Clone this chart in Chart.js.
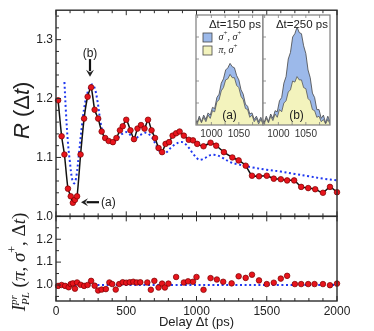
<!DOCTYPE html>
<html>
<head>
<meta charset="utf-8">
<script src="https://cdn.jsdelivr.net/npm/chart.js@4.4.1/dist/chart.umd.min.js"></script>
<style>
  body { margin: 0; background: #fff; }
  #wrap { position: relative; width: 374px; height: 331px; }
  canvas { position: absolute; }
</style>
</head>
<body>
<div id="wrap">
  <canvas id="main" width="374" height="331" style="left:0;top:0"></canvas>
  <canvas id="insetA" width="74" height="130" style="left:190px;top:10px"></canvas>
  <canvas id="insetB" width="74" height="130" style="left:257px;top:10px"></canvas>
</div>
<script>
'use strict';

// top panel: measured R(dt) and model (dotted)
let topTime = [15, 40, 60, 85, 105, 120, 135, 150, 175, 200, 225, 250, 275, 300, 325, 350, 375, 405, 430, 455,
  475, 500, 530, 555, 580, 605, 630, 655, 680, 705, 730, 755, 780, 805, 830, 855, 880, 910, 945, 975,
  1005, 1050, 1100, 1140, 1195, 1255, 1300, 1350, 1395, 1445, 1500, 1550, 1600, 1645, 1695, 1745, 1795, 1845, 1900, 1950, 2000];
let topR = [1.197, 1.136, 1.105, 1.047, 1.034, 1.023, 1.028, 1.034, 1.105, 1.166, 1.203, 1.219, 1.181, 1.166, 1.144, 1.133, 1.128, 1.126, 1.133, 1.146,
  1.153, 1.164, 1.146, 1.131, 1.149, 1.155, 1.149, 1.164, 1.146, 1.133, 1.116, 1.109, 1.123, 1.126, 1.137, 1.141, 1.144, 1.137, 1.130, 1.129,
  1.123, 1.119, 1.125, 1.120, 1.109, 1.100, 1.095, 1.086, 1.069, 1.068, 1.069, 1.064, 1.063, 1.061, 1.061, 1.050, 1.048, 1.046, 1.040, 1.050, 1.041];
let modelTime = [60, 70, 85, 100, 115, 130, 145, 165, 185, 205, 230, 255, 275, 295, 315, 335, 360, 400, 430, 460,
  500, 530, 560, 600, 640, 680, 710, 740, 780, 820, 860, 900, 940, 980, 1020, 1060, 1100, 1140, 1180, 1240,
  1300, 1400, 1500, 1600, 1700, 1800, 1900, 2000];
let modelR = [1.228, 1.18, 1.125, 1.09, 1.063, 1.056, 1.068, 1.11, 1.155, 1.19, 1.214, 1.224, 1.218, 1.196, 1.163, 1.14, 1.129, 1.126, 1.13, 1.138,
  1.143, 1.138, 1.132, 1.138, 1.142, 1.135, 1.122, 1.11, 1.108, 1.117, 1.124, 1.126, 1.118, 1.105, 1.096, 1.099, 1.104, 1.104, 1.100, 1.092,
  1.088, 1.083, 1.079, 1.076, 1.072, 1.068, 1.064, 1.061];

// bottom panel: I_PL(pi, sigma+, dt)
let botTime = [15, 40, 65, 90, 105, 120, 135, 150, 175, 200, 225, 250, 275, 300, 325, 355, 380, 400, 425, 450,
  475, 500, 525, 550, 575, 600, 650, 675, 700, 730, 755, 775, 800, 855, 910, 940, 975, 1000, 1050, 1100,
  1145, 1190, 1250, 1300, 1350, 1395, 1445, 1500, 1550, 1600, 1645, 1700, 1745, 1795, 1840, 1900, 1950, 2000];
let botI = [0.996, 1.0, 0.996, 0.99, 1.004, 1.007, 0.984, 1.011, 1.001, 0.996, 1.0, 1.018, 0.997, 0.976, 0.98, 0.982, 1.011, 1.004, 0.98, 1.004,
  1.012, 1.01, 1.012, 1.014, 1.011, 1.012, 1.011, 0.979, 1.018, 0.989, 1.006, 0.989, 1.006, 1.035, 1.011, 1.016, 1.014, 1.035, 0.979, 1.030,
  1.024, 1.014, 1.007, 1.038, 1.031, 1.045, 1.02, 1.004, 1.01, 1.028, 1.04, 1.004, 1.004, 1.004, 1.004, 1.004, 0.999, 1.006];
let botModelTime = [0, 2000];
let botModel = [1.0, 1.0];

let xTicks = [0, 500, 1000, 1500, 2000];
let topTicks = [1.0, 1.1, 1.2, 1.3];
let botTicks = [1.0, 1.1, 1.2];

// inset spectra
let specE = [970, 974, 978, 982, 986, 990, 994, 998, 1002, 1006, 1010, 1014, 1018, 1022, 1026, 1030, 1034,
  1038, 1042, 1046, 1050, 1054, 1058, 1062, 1066, 1070, 1074, 1078, 1082, 1086, 1090, 1094, 1098];
let blue150 = [0.06, 0.02, 0.08, 0.03, 0.09, 0.05, 0.11, 0.09, 0.16, 0.15, 0.25, 0.28, 0.38, 0.42, 0.50, 0.52, 0.56,
  0.53, 0.52, 0.45, 0.41, 0.32, 0.28, 0.19, 0.17, 0.10, 0.11, 0.05, 0.08, 0.03, 0.07, 0.02, 0.06];
let yellow150 = [0.05, 0.01, 0.06, 0.02, 0.07, 0.03, 0.09, 0.06, 0.13, 0.12, 0.21, 0.23, 0.31, 0.34, 0.41, 0.42, 0.46,
  0.43, 0.43, 0.36, 0.34, 0.26, 0.23, 0.15, 0.14, 0.07, 0.09, 0.03, 0.06, 0.01, 0.05, 0.01, 0.04];
let blue250 = [0.07, 0.02, 0.08, 0.03, 0.10, 0.06, 0.13, 0.12, 0.22, 0.25, 0.38, 0.44, 0.60, 0.66, 0.80, 0.83, 0.89,
  0.84, 0.83, 0.72, 0.65, 0.50, 0.43, 0.29, 0.25, 0.14, 0.14, 0.06, 0.09, 0.02, 0.08, 0.03, 0.05];
let yellow250 = [0.05, 0.01, 0.06, 0.02, 0.08, 0.04, 0.10, 0.07, 0.14, 0.12, 0.20, 0.22, 0.30, 0.32, 0.40, 0.39, 0.44,
  0.41, 0.41, 0.34, 0.33, 0.24, 0.22, 0.14, 0.13, 0.07, 0.08, 0.03, 0.05, 0.01, 0.05, 0.01, 0.03];
let specTicks = [1000, 1050];

const SANS = 'Liberation Sans, Arial, sans-serif';
const SERIF = 'Liberation Serif, Times New Roman, serif';
const BLUE_FILL = '#9cb9ea';
const YELLOW_FILL = '#f3f3bd';

function pairs(xs, ys) {
  return xs.map((x, i) => ({x: x, y: ys[i]}));
}

// draws a row of text pieces centred on (x, y), rotated by angle
function drawRuns(ctx, runs, x, y, angle) {
  ctx.save();
  ctx.translate(x, y);
  ctx.rotate(angle);
  let w = 0;
  runs.forEach(r => {
    ctx.font = r.font;
    r.w = ctx.measureText(r.t).width;
    if (r.lo) {
      ctx.font = r.lo.font;
      r.w = Math.max(r.w, ctx.measureText(r.lo.t).width);
    }
    w += r.w;
  });
  let cx = -w / 2;
  ctx.textAlign = 'left';
  ctx.textBaseline = 'middle';
  runs.forEach(r => {
    ctx.font = r.font;
    ctx.fillText(r.t, cx, r.dy || 0);
    if (r.lo) {
      ctx.font = r.lo.font;
      ctx.fillText(r.lo.t, cx, r.lo.dy);
    }
    cx += r.w;
  });
  ctx.restore();
}

function arrow(ctx, x1, y1, x2, y2) {
  const a = Math.atan2(y2 - y1, x2 - x1);
  const head = 7, half = 4;
  ctx.beginPath();
  ctx.moveTo(x1, y1);
  ctx.lineTo(x2 - Math.cos(a) * head * 0.8, y2 - Math.sin(a) * head * 0.8);
  ctx.lineWidth = 2.2;
  ctx.stroke();
  ctx.beginPath();
  ctx.moveTo(x2, y2);
  ctx.lineTo(x2 - Math.cos(a) * head - Math.sin(a) * half, y2 - Math.sin(a) * head + Math.cos(a) * half);
  ctx.lineTo(x2 - Math.cos(a) * head * 0.6, y2 - Math.sin(a) * head * 0.6);
  ctx.lineTo(x2 - Math.cos(a) * head + Math.sin(a) * half, y2 - Math.sin(a) * head - Math.cos(a) * half);
  ctx.closePath();
  ctx.fill();
}

const mainDeco = {
  id: 'mainDeco',
  afterDraw(chart) {
    const ctx = chart.ctx;
    const x = chart.scales.x, yT = chart.scales.yT, yB = chart.scales.yB;
    const L = chart.chartArea.left, R = chart.chartArea.right;
    ctx.save();
    ctx.strokeStyle = '#2b2b2b';
    ctx.lineWidth = 1.4;
    [yT, yB].forEach(s => ctx.strokeRect(L, s.top, R - L, s.bottom - s.top));

    ctx.lineWidth = 1;
    ctx.beginPath();
    for (let v = 0; v <= 2000; v += 100) {
      const px = x.getPixelForValue(v);
      const len = v % 500 === 0 ? 5 : 3;
      [yT, yB].forEach(s => {
        ctx.moveTo(px, s.top); ctx.lineTo(px, s.top + len);
        ctx.moveTo(px, s.bottom); ctx.lineTo(px, s.bottom - len);
      });
    }
    for (let k = 100; k <= 134; k += 2) {
      const py = yT.getPixelForValue(k / 100);
      ctx.moveTo(L, py); ctx.lineTo(L + (k % 10 === 0 ? 5 : 3), py);
    }
    for (let k = 95; k <= 125; k += 5) {
      const py = yB.getPixelForValue(k / 100);
      ctx.moveTo(L, py); ctx.lineTo(L + (k % 10 === 0 ? 5 : 3), py);
    }
    ctx.stroke();

    ctx.fillStyle = '#222';
    ctx.strokeStyle = '#111';
    drawRuns(ctx, [
      {t: 'R', font: 'italic 22px ' + SANS},
      {t: ' (', font: '22px ' + SANS},
      {t: 'Δ', font: '22px ' + SANS},
      {t: 't', font: 'italic 22px ' + SANS},
      {t: ')', font: '22px ' + SANS}
    ], 23, yT.getPixelForValue(1.18), -Math.PI / 2);

    drawRuns(ctx, [
      {t: 'I', font: 'italic 19px ' + SERIF},
      {t: 'pr', font: 'italic 11px ' + SERIF, dy: -6, lo: {t: 'PL', font: 'italic 11px ' + SERIF, dy: 6}},
      {t: ' (', font: '19px ' + SERIF},
      {t: 'π', font: 'italic 19px ' + SERIF},
      {t: ', ', font: '19px ' + SERIF},
      {t: 'σ', font: 'italic 19px ' + SERIF},
      {t: '+', font: '12px ' + SERIF, dy: -7},
      {t: ', ', font: '19px ' + SERIF},
      {t: 'Δ', font: '19px ' + SERIF},
      {t: 't', font: 'italic 19px ' + SERIF},
      {t: ')', font: '19px ' + SERIF}
    ], 20, 262, -Math.PI / 2);

    ctx.font = '13px ' + SANS;
    ctx.textAlign = 'center';
    ctx.textBaseline = 'middle';
    ctx.fillText('Delay Δt (ps)', (L + R) / 2, 322);

    // (b) arrow at the maximum, (a) arrow at the minimum
    const bx = x.getPixelForValue(242);
    ctx.font = '12px ' + SANS;
    ctx.fillText('(b)', bx, yT.getPixelForValue(1.277));
    arrow(ctx, bx, yT.getPixelForValue(1.267), bx, yT.getPixelForValue(1.237));
    const ay = yT.getPixelForValue(1.024);
    arrow(ctx, x.getPixelForValue(306), ay, x.getPixelForValue(178), ay);
    ctx.textAlign = 'left';
    ctx.fillText('(a)', x.getPixelForValue(320), ay);
    ctx.restore();
  }
};

new Chart(document.getElementById('main'), {
  type: 'line',
  data: {
    datasets: [
      {
        data: pairs(topTime, topR),
        yAxisID: 'yT',
        borderColor: '#111',
        borderWidth: 1.5,
        tension: 0.2,
        pointRadius: 2.8,
        pointBackgroundColor: '#e8141c',
        pointBorderColor: '#7a0000',
        pointBorderWidth: 0.7,
        clip: false
      },
      {
        data: pairs(botTime, botI),
        yAxisID: 'yB',
        showLine: false,
        pointRadius: 2.8,
        pointBackgroundColor: '#e8141c',
        pointBorderColor: '#7a0000',
        pointBorderWidth: 0.7,
        clip: false
      },
      {
        data: pairs(modelTime, modelR),
        yAxisID: 'yT',
        borderColor: '#2038f0',
        borderWidth: 2,
        borderDash: [2, 2.6],
        tension: 0.35,
        pointRadius: 0
      },
      {
        data: pairs(botModelTime, botModel),
        yAxisID: 'yB',
        borderColor: '#2038f0',
        borderWidth: 2,
        borderDash: [2, 2.6],
        pointRadius: 0
      }
    ]
  },
  options: {
    responsive: false,
    animation: false,
    events: [],
    layout: { padding: { left: 0, top: 9, right: 37, bottom: 0 } },
    plugins: { legend: { display: false }, tooltip: { enabled: false } },
    scales: {
      x: {
        type: 'linear', min: 0, max: 2000,
        afterBuildTicks: s => { s.ticks = xTicks.map(v => ({value: v})); },
        afterFit: s => { s.height = 30; },
        ticks: { padding: 3, maxRotation: 0, color: '#222', font: { family: SANS, size: 12 }, callback: v => String(v) },
        grid: { display: false, drawTicks: false },
        border: { display: false }
      },
      yB: {
        type: 'linear', position: 'left', stack: 'panels', stackWeight: 85,
        min: 0.93, max: 1.3,
        afterBuildTicks: s => { s.ticks = botTicks.map(v => ({value: v})); },
        afterFit: s => { s.width = 56; },
        ticks: { padding: 3, color: '#222', font: { family: SANS, size: 12 }, callback: v => v.toFixed(1) },
        grid: { display: false, drawTicks: false },
        border: { display: false }
      },
      yT: {
        type: 'linear', position: 'left', stack: 'panels', stackWeight: 207,
        min: 1.0, max: 1.35,
        afterBuildTicks: s => { s.ticks = topTicks.map(v => ({value: v})); },
        afterFit: s => { s.width = 56; },
        ticks: { padding: 3, color: '#222', font: { family: SANS, size: 12 }, callback: v => v.toFixed(1) },
        grid: { display: false, drawTicks: false },
        border: { display: false }
      }
    }
  },
  plugins: [mainDeco]
});

function insetDeco(title, tag, withLegend) {
  return {
    id: 'insetDeco',
    beforeDatasetsDraw(chart) {
      const a = chart.chartArea;
      chart.ctx.save();
      chart.ctx.fillStyle = '#fff';
      chart.ctx.fillRect(a.left, a.top, a.right - a.left, a.bottom - a.top);
      chart.ctx.restore();
    },
    afterDraw(chart) {
      const ctx = chart.ctx, a = chart.chartArea;
      const x = chart.scales.x, y = chart.scales.y;
      ctx.save();
      ctx.strokeStyle = '#7d7d7d';
      ctx.lineWidth = 1.2;
      ctx.strokeRect(a.left, a.top, a.right - a.left, a.bottom - a.top);
      ctx.lineWidth = 0.8;
      ctx.beginPath();
      for (let v = 975; v <= 1095; v += 25) {
        const px = x.getPixelForValue(v);
        ctx.moveTo(px, a.top); ctx.lineTo(px, a.top + 3);
        ctx.moveTo(px, a.bottom); ctx.lineTo(px, a.bottom - 3);
      }
      for (let k = 2; k <= 8; k += 2) {
        const py = y.getPixelForValue(k / 10);
        ctx.moveTo(a.left, py); ctx.lineTo(a.left + 3, py);
      }
      ctx.stroke();

      ctx.fillStyle = '#222';
      ctx.font = '11.5px ' + SANS;
      ctx.textAlign = 'right';
      ctx.textBaseline = 'middle';
      ctx.fillText(title, a.right - 2, a.top + 10);
      ctx.textAlign = 'center';
      ctx.font = '12px ' + SANS;
      ctx.fillText(tag, (a.left + a.right) / 2, a.bottom - 9);

      if (withLegend) {
        const lx = a.left + 7;
        [[BLUE_FILL, a.top + 18], [YELLOW_FILL, a.top + 31]].forEach(b => {
          ctx.fillStyle = b[0];
          ctx.fillRect(lx, b[1], 9, 9);
          ctx.strokeStyle = '#444';
          ctx.strokeRect(lx, b[1], 9, 9);
        });
        ctx.fillStyle = '#222';
        const it = 'italic 10px ' + SERIF, up = '7px ' + SERIF, rm = '10px ' + SERIF;
        drawRuns(ctx, [
          {t: 'σ', font: it}, {t: '+', font: up, dy: -4}, {t: ', ', font: rm},
          {t: 'σ', font: it}, {t: '+', font: up, dy: -4}
        ], lx + 27, a.top + 22.5, 0);
        drawRuns(ctx, [
          {t: 'π', font: it}, {t: ', ', font: rm},
          {t: 'σ', font: it}, {t: '+', font: up, dy: -4}
        ], lx + 25, a.top + 35.5, 0);
      }
      ctx.restore();
    }
  };
}

function insetChart(id, blue, yellow, title, tag, withLegend) {
  new Chart(document.getElementById(id), {
    type: 'line',
    data: {
      datasets: [
        { data: pairs(specE, yellow), fill: 'origin', backgroundColor: YELLOW_FILL, borderColor: '#555', borderWidth: 0.8, pointRadius: 0 },
        { data: pairs(specE, blue), fill: 'origin', backgroundColor: BLUE_FILL, borderColor: '#444', borderWidth: 0.8, pointRadius: 0 }
      ]
    },
    options: {
      responsive: false,
      animation: false,
      events: [],
      layout: { padding: { left: 6, right: 1, top: 5, bottom: 0 } },
      plugins: { legend: { display: false }, tooltip: { enabled: false } },
      scales: {
        x: {
          type: 'linear', min: 972, max: 1094,
          afterBuildTicks: s => { s.ticks = specTicks.map(v => ({value: v})); },
          afterFit: s => { s.height = 15; },
          ticks: { padding: 3, maxRotation: 0, color: '#333', font: { family: SANS, size: 10 }, callback: v => String(v) },
          grid: { display: false, drawTicks: false },
          border: { display: false }
        },
        y: { min: 0, max: 1, display: false }
      }
    },
    plugins: [insetDeco(title, tag, withLegend)]
  });
}

insetChart('insetA', blue150, yellow150, 'Δt=150 ps', '(a)', true);
insetChart('insetB', blue250, yellow250, 'Δt=250 ps', '(b)', false);
</script>
</body>
</html>
